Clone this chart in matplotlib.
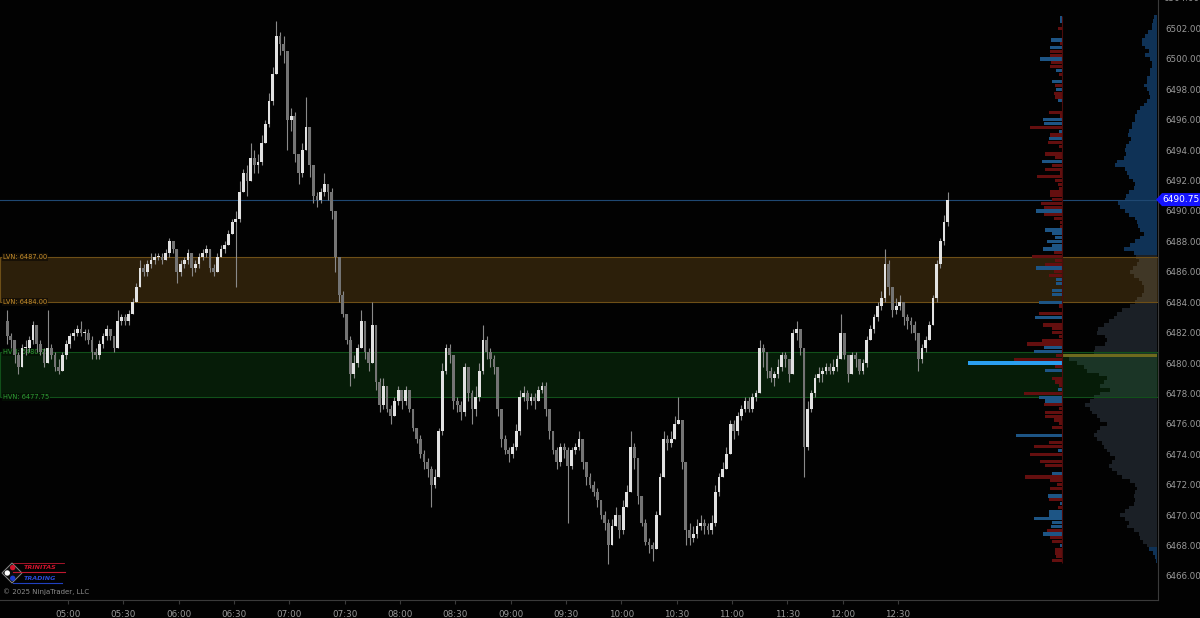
import numpy as np
import matplotlib
matplotlib.use("Agg")
import matplotlib.pyplot as plt
import matplotlib.transforms as mtrans
from matplotlib.patches import Polygon, Circle

# ---------- data ------------------------------------------------------------
BAR_MIN = 2                    # 2-minute candles
start_min = 4 * 60 + 27        # first bar 04:27
first_open = 6482.75

closes = [
    6481.75, 6481.5, 6480.5, 6479.75, 6481.0, 6481.0, 6481.5, 6482.5, 6481.25, 6480.75,
    6480.0, 6481.0, 6480.5, 6479.75, 6479.5, 6480.5, 6481.25, 6481.75, 6482.0, 6482.25,
    6482.0, 6482.0, 6481.5, 6480.75, 6480.5, 6481.25, 6481.75, 6482.25, 6481.75, 6481.0,
    6482.75, 6483.0, 6482.75, 6483.25, 6484.0, 6485.0, 6486.25, 6486.0, 6486.5, 6486.75,
    6487.0, 6487.0, 6486.75, 6487.25, 6488.0, 6487.5, 6486.0, 6486.5, 6486.75, 6487.25,
    6486.25, 6486.5, 6487.0, 6487.25, 6487.5, 6486.25, 6486.0, 6487.0, 6487.5, 6487.75,
    6488.5, 6489.25, 6489.5, 6491.25, 6492.5, 6492.0, 6493.5, 6493.0, 6493.25, 6494.5,
    6495.75, 6497.25, 6499.0, 6501.5, 6501.0, 6500.5, 6496.0, 6496.25, 6493.75, 6492.5,
    6494.0, 6495.5, 6493.0, 6491.0, 6490.75, 6491.25, 6491.75, 6491.25, 6490.0, 6487.0,
    6484.5, 6483.25, 6481.5, 6479.25, 6480.0, 6481.0, 6482.75, 6480.75, 6480.0, 6482.5,
    6478.75, 6477.25, 6478.5, 6477.0, 6476.5, 6477.5, 6478.25, 6477.5, 6478.25, 6477.0,
    6475.75, 6475.0, 6474.0, 6473.5, 6473.0, 6472.0, 6472.5, 6475.5, 6479.5, 6481.0,
    6480.5, 6477.5, 6477.25, 6476.75, 6479.75, 6478.0, 6477.0, 6477.75, 6479.5, 6481.5,
    6480.75, 6480.25, 6479.75, 6477.0, 6475.0, 6474.25, 6474.0, 6474.5, 6475.5, 6477.75,
    6478.0, 6477.5, 6477.75, 6477.5, 6478.25, 6478.5, 6477.0, 6475.5, 6474.25, 6473.5,
    6474.5, 6474.25, 6473.25, 6474.25, 6474.5, 6475.0, 6473.5, 6472.5, 6472.0, 6471.5,
    6471.0, 6470.0, 6469.5, 6468.0, 6469.25, 6470.0, 6469.0, 6470.5, 6471.5, 6474.5,
    6473.75, 6471.25, 6469.5, 6468.25, 6468.0, 6467.75, 6470.0, 6472.5, 6475.0, 6474.75,
    6475.0, 6476.0, 6476.25, 6473.5, 6469.0, 6468.5, 6468.75, 6469.25, 6469.5, 6469.25,
    6469.0, 6469.5, 6471.5, 6472.5, 6473.0, 6474.0, 6476.0, 6475.5, 6476.5, 6477.0,
    6477.5, 6477.0, 6477.75, 6478.0, 6481.0, 6480.75, 6479.5, 6479.0, 6479.25, 6479.75,
    6480.5, 6480.25, 6479.25, 6482.0, 6482.25, 6481.0, 6474.5, 6477.0, 6478.0, 6479.0,
    6479.25, 6479.5, 6479.75, 6479.5, 6479.75, 6480.25, 6482.0, 6480.5, 6479.25, 6480.5,
    6480.25, 6479.5, 6480.0, 6481.5, 6482.25, 6483.0, 6483.75, 6484.25, 6486.5, 6485.0,
    6483.5, 6483.75, 6484.0, 6483.0, 6482.75, 6482.5, 6482.0, 6480.25, 6481.0, 6481.5,
    6482.5, 6484.25, 6486.5, 6488.0, 6489.25, 6490.75,
]
highs = [
    6483.5, 6482.0, 6481.5, 6480.75, 6481.25, 6481.5, 6481.75, 6482.75, 6482.5, 6481.5,
    6481.0, 6483.5, 6481.25, 6480.75, 6480.25, 6480.75, 6481.5, 6482.0, 6482.25, 6482.5,
    6482.75, 6482.25, 6482.25, 6481.75, 6481.0, 6481.5, 6482.0, 6482.5, 6482.25, 6481.75,
    6483.5, 6483.25, 6483.25, 6483.5, 6484.25, 6485.25, 6486.75, 6486.5, 6486.75, 6487.25,
    6487.25, 6487.25, 6487.25, 6487.5, 6488.25, 6488.0, 6487.5, 6486.75, 6487.0, 6487.5,
    6487.0, 6486.75, 6487.25, 6487.5, 6487.75, 6487.5, 6486.5, 6487.25, 6487.75, 6488.0,
    6488.75, 6489.5, 6490.0, 6492.0, 6492.75, 6493.0, 6494.5, 6494.0, 6493.75, 6495.0,
    6496.0, 6497.75, 6499.5, 6502.5, 6501.75, 6501.5, 6500.5, 6496.75, 6496.5, 6493.75,
    6494.5, 6497.5, 6494.5, 6493.0, 6491.25, 6491.5, 6492.5, 6491.75, 6491.5, 6490.0,
    6487.0, 6484.75, 6483.25, 6481.75, 6480.5, 6481.25, 6483.5, 6482.75, 6481.0, 6484.0,
    6482.5, 6479.0, 6479.0, 6478.5, 6477.25, 6477.75, 6478.5, 6478.25, 6478.5, 6478.25,
    6477.0, 6475.75, 6475.25, 6474.25, 6473.75, 6473.25, 6473.0, 6475.75, 6480.0, 6481.25,
    6481.25, 6480.5, 6477.75, 6477.5, 6480.0, 6479.75, 6478.25, 6478.5, 6480.0, 6482.5,
    6481.75, 6481.0, 6480.5, 6479.75, 6477.0, 6475.25, 6474.5, 6474.75, 6476.0, 6478.25,
    6478.5, 6478.25, 6478.0, 6478.0, 6478.5, 6478.75, 6478.75, 6477.0, 6475.5, 6474.5,
    6474.75, 6474.75, 6474.5, 6474.5, 6474.75, 6475.5, 6475.0, 6473.5, 6472.75, 6472.25,
    6471.75, 6471.0, 6470.25, 6469.75, 6469.75, 6470.5, 6470.0, 6471.0, 6472.0, 6475.5,
    6474.75, 6473.75, 6471.25, 6469.75, 6468.5, 6468.25, 6470.25, 6472.75, 6475.5, 6475.25,
    6475.5, 6476.5, 6477.75, 6476.25, 6473.5, 6469.5, 6469.25, 6469.75, 6470.0, 6469.75,
    6469.5, 6470.0, 6472.0, 6472.75, 6473.5, 6474.5, 6476.25, 6476.25, 6476.75, 6477.25,
    6477.75, 6477.75, 6478.0, 6478.25, 6481.5, 6481.25, 6480.5, 6479.75, 6479.5, 6480.25,
    6480.75, 6480.75, 6480.25, 6482.25, 6482.75, 6482.25, 6481.0, 6477.5, 6478.25, 6479.25,
    6479.75, 6479.75, 6480.0, 6480.0, 6480.25, 6480.5, 6483.25, 6482.0, 6480.5, 6480.75,
    6480.75, 6480.25, 6480.25, 6481.75, 6482.5, 6483.25, 6484.0, 6484.75, 6487.5, 6486.75,
    6485.0, 6484.25, 6484.5, 6484.0, 6483.25, 6483.0, 6482.75, 6482.0, 6481.25, 6481.75,
    6482.75, 6484.5, 6486.75, 6488.25, 6489.75, 6491.25,
]
lows = [
    6481.25, 6481.0, 6480.0, 6479.25, 6479.75, 6480.5, 6480.75, 6481.25, 6480.75, 6480.5,
    6479.75, 6480.0, 6480.25, 6479.5, 6479.25, 6479.5, 6480.25, 6481.0, 6481.5, 6481.75,
    6481.75, 6481.5, 6481.25, 6480.25, 6480.25, 6480.25, 6481.0, 6481.5, 6481.5, 6480.75,
    6481.0, 6482.5, 6482.5, 6482.5, 6483.25, 6484.0, 6485.0, 6485.75, 6485.75, 6486.25,
    6486.5, 6486.75, 6486.5, 6486.75, 6487.0, 6487.25, 6485.25, 6485.75, 6486.25, 6486.5,
    6485.75, 6486.0, 6486.25, 6486.75, 6487.0, 6486.0, 6485.75, 6486.0, 6487.0, 6487.25,
    6487.75, 6488.5, 6485.0, 6489.25, 6491.25, 6491.0, 6492.0, 6492.5, 6492.5, 6493.0,
    6494.5, 6495.5, 6497.0, 6499.0, 6500.25, 6499.75, 6494.0, 6495.25, 6493.25, 6491.75,
    6492.25, 6494.0, 6492.25, 6490.5, 6490.25, 6490.5, 6491.0, 6490.75, 6489.5, 6486.0,
    6484.0, 6483.0, 6481.25, 6478.5, 6479.0, 6479.75, 6481.0, 6480.25, 6479.5, 6480.0,
    6478.25, 6476.75, 6477.0, 6476.75, 6476.0, 6476.5, 6477.25, 6477.0, 6477.25, 6476.75,
    6475.5, 6474.75, 6473.75, 6473.0, 6472.5, 6470.5, 6471.75, 6472.5, 6475.25, 6479.25,
    6480.0, 6477.0, 6476.75, 6476.25, 6476.5, 6477.5, 6476.0, 6476.5, 6477.5, 6479.25,
    6480.25, 6479.75, 6479.25, 6476.5, 6474.5, 6474.0, 6473.5, 6473.75, 6474.25, 6475.25,
    6477.5, 6477.0, 6477.25, 6477.0, 6477.5, 6478.0, 6476.5, 6475.0, 6474.0, 6473.0,
    6473.25, 6473.75, 6469.5, 6473.0, 6474.0, 6474.25, 6473.0, 6472.0, 6471.75, 6471.25,
    6470.5, 6469.75, 6469.0, 6466.75, 6468.0, 6469.25, 6468.5, 6468.75, 6470.5, 6471.5,
    6473.0, 6470.75, 6469.25, 6468.0, 6467.5, 6467.0, 6467.75, 6470.0, 6472.5, 6474.25,
    6474.5, 6475.0, 6476.0, 6473.0, 6468.0, 6468.0, 6468.25, 6468.5, 6469.0, 6468.75,
    6468.75, 6468.75, 6469.25, 6471.25, 6472.5, 6473.0, 6474.0, 6475.0, 6475.25, 6476.25,
    6476.75, 6476.75, 6476.75, 6477.5, 6478.0, 6479.75, 6479.0, 6478.75, 6478.5, 6479.0,
    6479.5, 6479.75, 6478.75, 6479.25, 6481.5, 6480.5, 6472.5, 6474.25, 6476.75, 6477.75,
    6478.75, 6478.75, 6479.25, 6479.25, 6479.25, 6479.5, 6480.25, 6480.25, 6478.75, 6479.25,
    6479.75, 6479.25, 6479.25, 6479.75, 6481.5, 6482.0, 6482.75, 6483.5, 6484.0, 6484.5,
    6483.0, 6483.25, 6483.5, 6482.5, 6482.25, 6482.0, 6481.5, 6479.5, 6480.0, 6480.75,
    6481.5, 6482.5, 6484.0, 6486.25, 6487.75, 6489.0,
]

# session volume profile, one row per 0.25 tick from 6502.75 downwards
prof_top = 6502.75
prof_tick = 0.25
profile_vol = [
    3, 4, 5, 5, 9, 12, 15, 15,        # 6502 / 6501
    12, 8, 12, 7, 5, 5, 7, 7,         # 6500 / 6499
    10, 10, 13, 10, 8, 7, 10, 13,     # 6498 / 6497
    17, 20, 22, 22, 25, 25, 28, 29,   # 6496 / 6495
    26, 28, 31, 32, 31, 33, 40, 42,   # 6494 / 6493
    32, 30, 28, 24, 22, 23, 28, 31,   # 6492 / 6491
    32, 39, 37, 32, 28, 22, 20, 19,   # 6490 / 6489
    17, 13, 17, 22, 27, 33, 23, 21,   # 6488 / 6487
    18, 20, 24, 27, 23, 18, 15, 13,   # 6486 / 6485
    13, 15, 20, 22, 27, 35, 40, 43,   # 6484 / 6483
    48, 53, 59, 60, 52, 50, 52, 62,   # 6482 / 6481
    63, 94, 88, 80, 73, 70, 58, 50,   # 6480 / 6479
    53, 57, 47, 57, 63, 67, 72, 67,   # 6478 / 6477
    65, 60, 57, 50, 57, 60, 63, 60,   # 6476 / 6475
    55, 53, 50, 47, 42, 45, 48, 45,   # 6474 / 6473
    40, 35, 27, 22, 20, 22, 23, 22,   # 6472 / 6471
    23, 28, 32, 37, 32, 28, 30, 23,   # 6470 / 6469
    18, 17, 14, 10, 8, 4, 2, 1,       # 6468 / 6467
]
# bid/ask delta per row (positive = buyers, negative = sellers)
delta_vol = [
    2, 2, 0, -4, 0, 0, 11, -2,
    12, -12, -12, 22, -11, -12, 6, -3,
    0, 10, -7, 6, -8, -7, 4, 0,
    0, -13, -2, 19, 18, -32, 3, -12,
    13, -14, -3, 0, -17, -7, 20, -10,
    -17, -2, -25, -7, -4, -3, -12, -12,
    -10, -21, -18, 26, -18, -8, -2, -2,
    17, 10, 7, 15, 10, 19, -8, -30,
    -7, -17, 26, -8, -13, 6, 6, 0,
    10, 10, 0, 23, -3, 0, -23, 27,
    0, -19, -10, -10, -3, -20, -35, 18,
    28, -6, -48, 94, -7, 17, 0, -10,
    -7, -3, 4, -38, 23, 17, -18, -3,
    -17, -17, -8, -3, -10, 0, 46, 0,
    -13, -28, 4, -32, 0, -22, -17, 0,
    10, -37, -12, -5, -12, 0, 14, -13,
    2, -4, 13, 13, 28, 10, 11, -15,
    19, -12, -10, 2, -7, -7, -6, -10,
]
va_low, va_high = 6468.0, 6487.0
poc = 6480.5

lvn_zone = (6484.00, 6487.00)
hvn_zone = (6477.75, 6480.75)
last_price = 6490.75

time_labels = ["05:00", "05:30", "06:00", "06:30", "07:00", "07:30", "08:00", "08:30",
               "09:00", "09:30", "10:00", "10:30", "11:00", "11:30", "12:00", "12:30"]
price_labels = [6466, 6468, 6470, 6472, 6474, 6476, 6478, 6480, 6482, 6484,
                6486, 6488, 6490, 6492, 6494, 6496, 6498, 6500, 6502]

# ---------- layout helpers ----------------------------------------------------
W, H = 1200, 618
PX_PER_MIN = 1.8444            # 30 min == 55.3 px
X0_PX, X0_MIN = 68, 300        # 05:00 sits at x=68
def px2min(px):
    return X0_MIN + (px - X0_PX) / PX_PER_MIN

PANEL_R = 1158                 # right edge of price panel (px)
PANEL_B = 600                  # bottom of price panel (px)
Y_TOP, Y_BOT = 6503.88, 6464.41
BG = "#020202"
TXT = "#9a9a9a"

def price2px(p):
    return (Y_TOP - p) / (Y_TOP - Y_BOT) * PANEL_B

plt.rcParams.update({"font.family": "DejaVu Sans"})
fig = plt.figure(figsize=(12, 6.18), dpi=100, facecolor=BG)
ax = fig.add_axes([0, (H - PANEL_B) / H, PANEL_R / W, PANEL_B / H])
ax.set_facecolor(BG)
ax.set_xlim(px2min(0), px2min(PANEL_R))
ax.set_ylim(Y_BOT, Y_TOP)

for s in ("top", "left"):
    ax.spines[s].set_visible(False)
for s in ("right", "bottom"):
    ax.spines[s].set_color("#3a3a3a")
    ax.spines[s].set_linewidth(0.8)

# ---------- volume profile --------------------------------------------------
profile_vol = np.array(profile_vol, float)
delta_vol = np.array(delta_vol, float)
levels = prof_top - prof_tick * np.arange(len(profile_vol))

in_va = (levels >= va_low) & (levels <= va_high)
pcols = np.where(in_va, "#1b2026", "#0f3256").astype(object)
is_poc = np.isclose(levels, poc)
right_edge = px2min(1157)
ax.barh(levels[~is_poc], -profile_vol[~is_poc] / PX_PER_MIN, left=right_edge,
        height=prof_tick, color=list(pcols[~is_poc]), linewidth=0, zorder=1)
ax.barh(levels[is_poc], -profile_vol[is_poc] / PX_PER_MIN, left=right_edge,
        height=prof_tick, color="#6f6a1e", linewidth=0, zorder=2.8)

delta_base = px2min(1062)
dcols = np.where(delta_vol > 0, "#1d5585", "#640f0f").astype(object)
dcols[np.argmax(delta_vol)] = "#2a9ff0"
ax.barh(levels, -np.abs(delta_vol) / PX_PER_MIN, left=delta_base,
        height=prof_tick * 0.85, color=list(dcols), linewidth=0, zorder=3)
ax.vlines(delta_base, levels.min() - 0.15, levels.max() + 0.1,
          color="#4a0c0c", lw=0.8, zorder=3)

# ---------- zones -------------------------------------------------------------
ax.axhspan(*lvn_zone, facecolor=(0.80, 0.56, 0.16, 0.21), edgecolor="#6e4f17",
           lw=0.8, zorder=2)
ax.axhspan(*hvn_zone, facecolor=(0.12, 0.62, 0.16, 0.17), edgecolor="#11501a",
           lw=0.8, zorder=2)

lab_tr = mtrans.blended_transform_factory(ax.transAxes, ax.transData)
for lvl in lvn_zone:
    ax.text(3 / PANEL_R, lvl, f"LVN: {lvl:.2f}", transform=lab_tr, fontsize=4.8,
            color="#c58d2c", va="center", ha="left", zorder=2.5,
            bbox=dict(boxstyle="square,pad=0.15", fc="#120d05", ec="none", alpha=0.8))
for lvl in hvn_zone:
    ax.text(3 / PANEL_R, lvl, f"HVN: {lvl:.2f}", transform=lab_tr, fontsize=4.8,
            color="#2f9c34", va="center", ha="left", zorder=2.5,
            bbox=dict(boxstyle="square,pad=0.15", fc="#041004", ec="none", alpha=0.8))

# last price line
ax.axhline(last_price, color="#1f4872", lw=0.8, zorder=2.6)

# ---------- candles -----------------------------------------------------------
closes = np.array(closes)
opens = np.r_[first_open, closes[:-1]]
highs = np.maximum(np.array(highs), np.maximum(opens, closes))
lows = np.minimum(np.array(lows), np.minimum(opens, closes))
t = start_min + BAR_MIN * np.arange(len(closes))
up = closes >= opens
body = closes - opens
body = np.where(np.abs(body) < 0.05, 0.07, body)

ax.vlines(t, lows, highs, color="#8a8a8a", lw=0.8, zorder=4)
ax.bar(t[up], body[up], bottom=opens[up], width=1.5, color="#e2e2e2",
       linewidth=0, zorder=5)
ax.bar(t[~up], body[~up], bottom=opens[~up], width=1.5, color="#747474",
       linewidth=0, zorder=5)

# ---------- axes ticks --------------------------------------------------------
ax.yaxis.tick_right()
ax.set_yticks(price_labels)
ax.set_yticklabels([f"{p:.2f}" for p in price_labels])
ax.tick_params(axis="y", length=0, pad=5, labelsize=6.3, labelcolor=TXT)
# the 6504.00 label sits half off the top edge, as in the source chart
ax.text(1 + 5 / PANEL_R, 6504.0, "6504.00", transform=lab_tr, fontsize=6.3,
        color=TXT, va="center", ha="left", clip_on=False)

tpos = [int(s[:2]) * 60 + int(s[3:]) for s in time_labels]
ax.set_xticks(tpos)
ax.set_xticklabels(time_labels)
ax.tick_params(axis="x", length=3, width=0.8, color="#3a3a3a", pad=4,
               labelsize=6.3, labelcolor=TXT)

# ---------- pixel overlay: price marker, logo, copyright --------------------
ov = fig.add_axes([0, 0, 1, 1])
ov.set_xlim(0, W)
ov.set_ylim(H, 0)
ov.axis("off")
ov.patch.set_alpha(0)

py = price2px(last_price)
ov.add_patch(Polygon([(1156, py), (1162, py - 6.5), (1200, py - 6.5),
                      (1200, py + 6.5), (1162, py + 6.5)], closed=True,
                     fc="#1414ff", ec="none", zorder=10))
ov.text(1181, py, f"{last_price:.2f}", fontsize=6.5, color="white",
        va="center", ha="center", zorder=11)

ov.add_patch(Polygon([(2, 573), (12, 563), (22, 573), (12, 583)], closed=True,
                     fc="#0c0c0c", ec="#8a8a8a", lw=0.7))
ov.add_patch(Circle((12.7, 567.6), 2.7, fc="#d0142c", ec="none"))
ov.add_patch(Circle((7.3, 573.0), 2.7, fc="white", ec="none"))
ov.add_patch(Circle((12.7, 578.3), 2.7, fc="#1c3ccc", ec="none"))
ov.plot([13, 64], [562.5, 562.5], color="#c01830", lw=0.6)
ov.plot([13, 65], [572.3, 572.3], color="#c01830", lw=0.8)
ov.plot([13, 62], [583.3, 583.3], color="#2040c0", lw=0.8)
ov.text(23.5, 567.3, "TRINITAS", fontsize=4.6, color="#d0142c", fontweight="bold",
        style="italic", va="center", ha="left")
ov.text(23.5, 578.0, "TRADING", fontsize=4.6, color="#2a4ad8", fontweight="bold",
        style="italic", va="center", ha="left")
ov.text(3, 591.3, "\u00a9 2025 NinjaTrader, LLC", fontsize=5.0, color="#8c8c8c",
        va="center", ha="left")

fig.savefig("out.png", dpi=100, facecolor=BG)
